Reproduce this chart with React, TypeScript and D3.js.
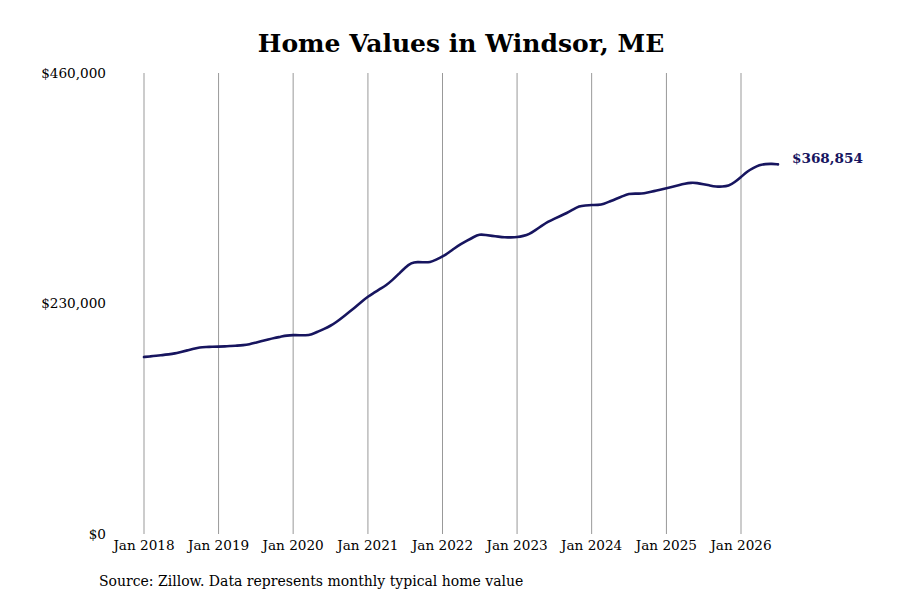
import React, { useEffect, useRef } from "react";
import * as d3 from "d3";

const START_YEAR = 2018;
const values: number[] = [
  176.6, 177.2, 177.9, 178.5, 179.2, 180.1, 181.7, 183.2, 184.8, 186.4, 186.6, 186.8,
  187.0, 187.2, 187.6, 188.0, 188.4, 189.3, 190.9, 192.5, 194.1, 195.6, 196.8, 198.1,
  198.5, 198.4, 198.2, 199.1, 201.9, 204.7, 207.6, 211.7, 216.6, 221.5, 226.6, 231.8,
  237.0, 240.8, 244.5, 248.3, 253.4, 259.5, 265.7, 270.7, 271.5, 271.1, 271.0, 273.8,
  276.8, 280.8, 285.2, 289.3, 292.7, 296.2, 299.2, 298.3, 297.5, 296.7, 295.9, 296.0,
  296.2, 297.4, 299.1, 303.3, 307.4, 311.6, 314.5, 317.3, 320.2, 323.7, 327.3, 327.8,
  328.3, 328.3, 329.2, 332.1, 334.6, 337.1, 339.6, 339.6, 339.6, 340.8, 342.1, 343.5,
  345.0, 346.5, 348.0, 349.6, 350.6, 350.3, 349.1, 347.8, 346.6, 346.6, 347.1, 351.0,
  356.1, 361.9, 365.1, 368.3, 369.2, 369.4, 368.854,
].map((v) => v * 1000);

const yTicks: number[] = [0, 230000, 460000];
const xTickYears: number[] = [2018, 2019, 2020, 2021, 2022, 2023, 2024, 2025, 2026];
const lastLabel = "$368,854";
const title = "Home Values in Windsor, ME";
const source = "Source: Zillow. Data represents monthly typical home value";

const FONT = "'DejaVu Serif', serif";
const NAVY = "#17155f";

export default function App() {
  const ref = useRef<SVGSVGElement | null>(null);
  useEffect(() => {
    const svg = d3.select(ref.current);
    svg.selectAll("*").remove();
    const W = 900, H = 600;
    const x = d3.scaleTime()
      .domain([new Date(2018, 0, 1), new Date(2026, 0, 1)])
      .range([144, 741]);
    const y = d3.scaleLinear().domain([0, 460000]).range([534, 73]);
    const data = values.map((v, i) => ({ d: new Date(START_YEAR, i, 1), v }));

    svg.append("rect").attr("width", W).attr("height", H).attr("fill", "#fff");

    svg.append("text")
      .attr("x", 461).attr("y", 52)
      .attr("text-anchor", "middle")
      .attr("font-family", FONT).attr("font-weight", "bold").attr("font-size", 25)
      .attr("fill", "#000")
      .text(title);

    const xTicks = xTickYears.map((yr) => new Date(yr, 0, 1));
    svg.append("g").selectAll("line").data(xTicks).join("line")
      .attr("x1", (d) => x(d)).attr("x2", (d) => x(d))
      .attr("y1", y(460000)).attr("y2", y(0))
      .attr("stroke", "#999").attr("stroke-width", 1);

    svg.append("g").selectAll("text").data(xTicks).join("text")
      .attr("x", (d) => x(d)).attr("y", 550)
      .attr("text-anchor", "middle")
      .attr("font-family", FONT).attr("font-size", 13.6).attr("fill", "#000")
      .text((d) => d3.timeFormat("Jan %Y")(d));

    const fmt = d3.format("$,.0f");
    svg.append("g").selectAll("text").data(yTicks).join("text")
      .attr("x", 106).attr("y", (d) => y(d))
      .attr("dy", "0.35em")
      .attr("text-anchor", "end")
      .attr("font-family", FONT).attr("font-size", 13.6).attr("fill", "#000")
      .text((d) => fmt(d));

    const line = d3.line<{ d: Date; v: number }>()
      .x((p) => x(p.d)).y((p) => y(p.v))
      .curve(d3.curveBasis);
    svg.append("path").datum(data)
      .attr("d", line)
      .attr("fill", "none")
      .attr("stroke", NAVY)
      .attr("stroke-width", 2.6)
      .attr("stroke-linejoin", "round")
      .attr("stroke-linecap", "round");

    const last = data[data.length - 1];
    svg.append("text")
      .attr("x", x(last.d) + 14).attr("y", y(last.v) - 6)
      .attr("dy", "0.35em")
      .attr("font-family", FONT).attr("font-weight", "bold").attr("font-size", 13.6)
      .attr("fill", NAVY)
      .text(lastLabel);

    svg.append("text")
      .attr("x", 99).attr("y", 586)
      .attr("font-family", FONT).attr("font-size", 14).attr("fill", "#000")
      .text(source);
  }, []);
  return (
    <svg
      ref={ref}
      width={900}
      height={600}
      style={{ position: "absolute", left: 0, top: 0 }}
    />
  );
}
